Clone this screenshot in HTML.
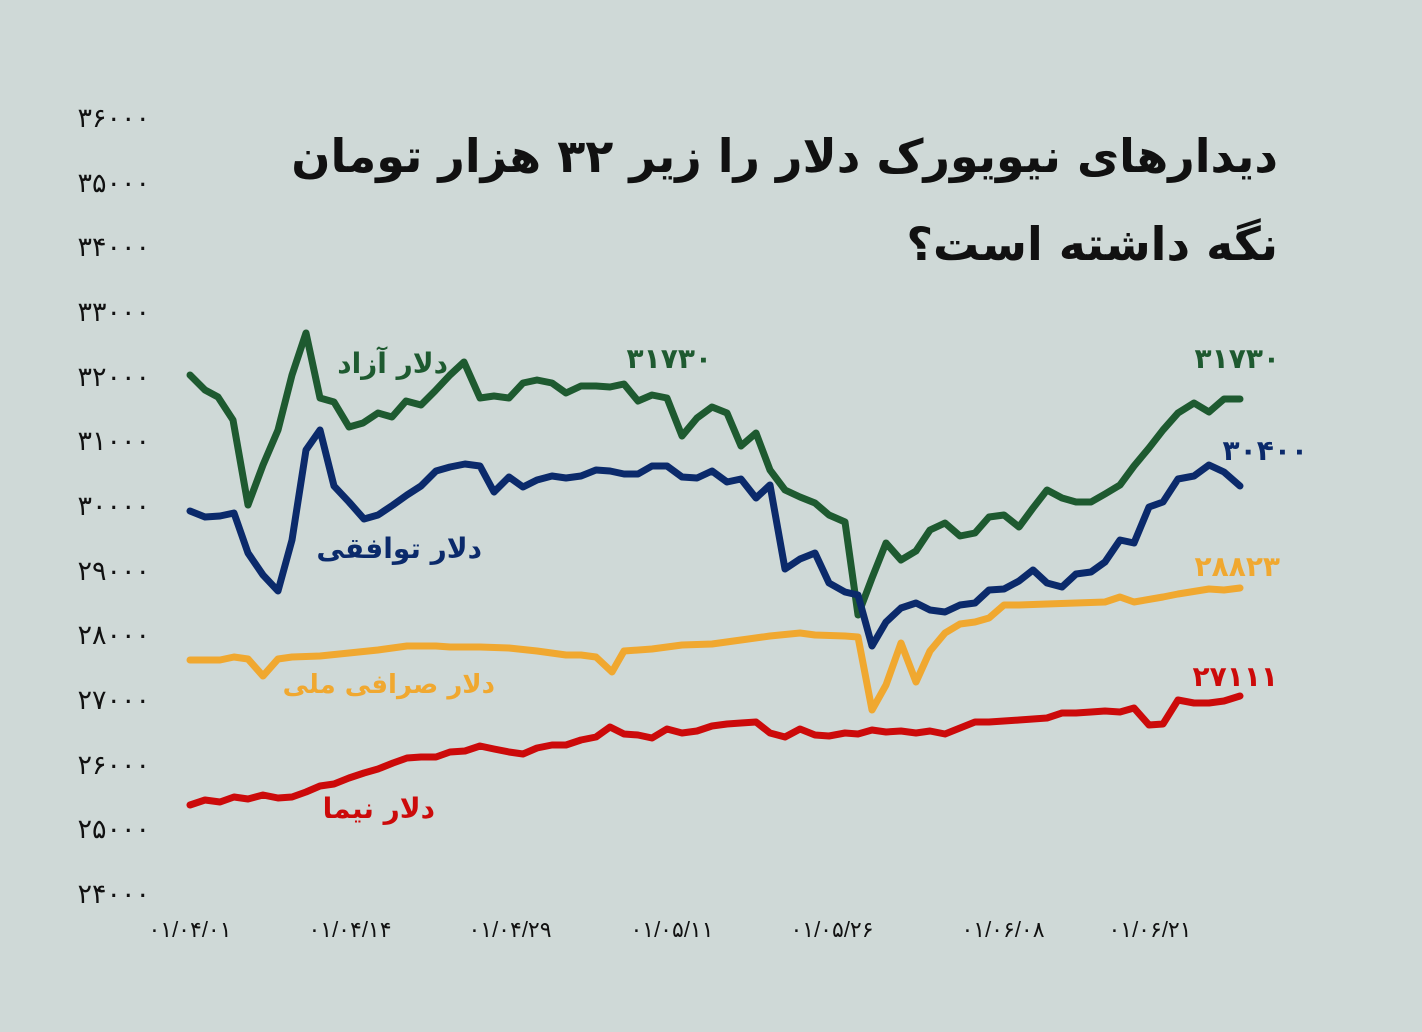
<!DOCTYPE html>
<html><head><meta charset="utf-8"><style>
html,body{margin:0;padding:0;background:#cfd9d7;}
svg{display:block}
</style></head><body>
<svg width="1422" height="1032" viewBox="0 0 1422 1032" xmlns="http://www.w3.org/2000/svg">
<rect width="1422" height="1032" fill="#cfd9d7"/>
<g font-family="'Liberation Sans','Noto Sans CJK SC','DejaVu Sans',sans-serif" font-size="27" fill="#111" text-anchor="end">
<text x="150" y="127">۳۶۰۰۰</text>
<text x="150" y="192">۳۵۰۰۰</text>
<text x="150" y="256">۳۴۰۰۰</text>
<text x="150" y="321">۳۳۰۰۰</text>
<text x="150" y="386">۳۲۰۰۰</text>
<text x="150" y="450">۳۱۰۰۰</text>
<text x="150" y="515">۳۰۰۰۰</text>
<text x="150" y="580">۲۹۰۰۰</text>
<text x="150" y="644">۲۸۰۰۰</text>
<text x="150" y="709">۲۷۰۰۰</text>
<text x="150" y="774">۲۶۰۰۰</text>
<text x="150" y="838">۲۵۰۰۰</text>
<text x="150" y="903">۲۴۰۰۰</text>
</g>
<g font-family="'Liberation Sans','DejaVu Sans',sans-serif" font-size="22" fill="#111" text-anchor="middle">
<text x="190" y="937">۰۱/۰۴/۰۱</text>
<text x="350" y="937">۰۱/۰۴/۱۴</text>
<text x="510" y="937">۰۱/۰۴/۲۹</text>
<text x="672" y="937">۰۱/۰۵/۱۱</text>
<text x="832" y="937">۰۱/۰۵/۲۶</text>
<text x="1003" y="937">۰۱/۰۶/۰۸</text>
<text x="1150" y="937">۰۱/۰۶/۲۱</text>
</g>
<g font-family="'DejaVu Sans',sans-serif" font-weight="bold" fill="#111" direction="rtl">
<text x="1278" y="172" font-size="46">دیدارهای نیویورک دلار را زیر ۳۲ هزار تومان</text>
<text x="1278" y="260" font-size="46">نگه داشته است؟</text>
</g>
<g fill="none" stroke-width="7" stroke-linejoin="round" stroke-linecap="round">
<polyline stroke="#cc0a0a" points="190,805 205,800 220,802 234,797 248,799 263,795 278,798 292,797 306,792 320,786 334,784 349,778 364,773 378,769 393,763 407,758 421,757 436,757 450,752 465,751 480,746 494,749 509,752 523,754 537,748 552,745 566,745 581,740 596,737 610,727 624,734 638,735 652,738 667,729 682,733 697,731 712,726 727,724 741,723 756,722 770,733 785,737 800,729 815,735 829,736 845,733 858,734 872,730 886,732 901,731 916,733 930,731 945,734 960,728 975,722 989,722 1004,721 1019,720 1033,719 1047,718 1062,713 1076,713 1091,712 1105,711 1120,712 1134,708 1149,725 1163,724 1178,700 1194,703 1209,703 1224,701 1240,696"/>
<polyline stroke="#f0a830" points="190,660 220,660 234,657 248,659 263,676 278,659 292,657 320,656 349,653 378,650 407,646 436,646 450,647 480,647 509,648 537,651 566,655 581,655 596,657 612,672 624,651 652,649 682,645 712,644 741,640 770,636 800,633 815,635 845,636 858,637 872,710 886,685 901,643 916,682 930,651 945,633 960,624 975,622 989,618 1004,605 1019,605 1047,604 1076,603 1105,602 1120,597 1134,602 1163,597 1178,594 1209,589 1224,590 1240,588"/>
<polyline stroke="#1e5a30" points="190,375 205,390 218,397 233,420 248,505 263,465 278,430 292,375 306,333 320,398 334,402 349,427 363,423 378,413 392,417 406,401 421,405 435,391 450,375 464,362 480,398 494,396 509,398 523,383 537,380 552,383 566,393 581,386 596,386 610,387 624,384 638,401 652,395 667,398 682,436 697,418 712,407 727,413 741,446 756,433 770,470 785,490 800,497 815,503 829,515 845,522 858,615 872,578 886,543 901,560 916,551 930,530 945,523 960,536 975,533 989,517 1004,515 1019,527 1033,508 1047,490 1062,498 1076,502 1091,502 1105,494 1120,485 1134,466 1149,448 1163,430 1178,413 1194,403 1209,412 1224,399 1240,399"/>
<polyline stroke="#0b2a6b" points="190,511 205,517 220,516 234,513 248,553 263,575 278,591 292,540 306,450 320,430 334,486 349,502 364,519 378,515 393,505 407,495 421,486 436,471 450,467 465,464 480,466 494,492 509,477 523,487 537,480 552,476 566,478 581,476 596,470 610,471 624,474 638,474 652,466 667,466 682,477 697,478 712,471 727,482 741,479 756,498 770,485 785,569 800,559 815,553 829,583 845,592 858,595 872,646 886,622 901,608 916,603 930,610 945,612 960,605 975,603 989,590 1004,589 1019,581 1033,570 1047,583 1062,587 1076,574 1091,572 1105,562 1120,540 1134,543 1149,507 1163,502 1178,479 1194,476 1209,465 1224,472 1240,486"/>
</g>
<g font-family="'DejaVu Sans',sans-serif" font-weight="bold" font-size="28" direction="rtl">
<text x="448" y="373" fill="#1e5a30">دلار آزاد</text>
<text x="482" y="558" fill="#0b2a6b">دلار توافقی</text>
<text x="495" y="693" font-size="26" fill="#f0a830">دلار صرافی ملی</text>
<text x="435" y="818" fill="#cc0a0a">دلار نیما</text>
</g>
<g font-family="'Liberation Sans','DejaVu Sans',sans-serif" font-weight="bold" font-size="28" text-anchor="end">
<text x="712" y="368" fill="#1e5a30">۳۱۷۳۰</text>
<text x="1280" y="368" fill="#1e5a30">۳۱۷۳۰</text>
<text x="1308" y="460" fill="#0b2a6b">۳۰۴۰۰</text>
<text x="1280" y="576" fill="#f0a830">۲۸۸۲۳</text>
<text x="1278" y="686" fill="#cc0a0a">۲۷۱۱۱</text>
</g>
</svg>
</body></html>
